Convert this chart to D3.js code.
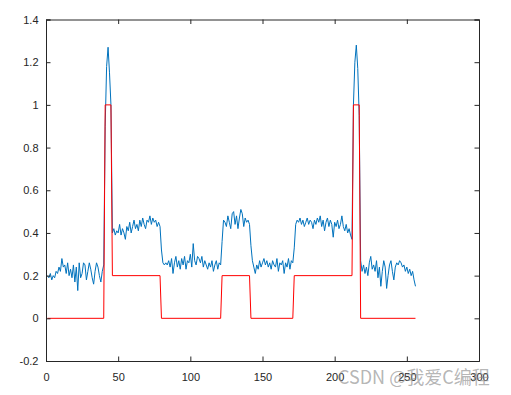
<!DOCTYPE html>
<html>
  <head>
    <meta charset="utf-8" />
    <title>signal</title>
    <style>
    body{
      margin: 0;
      background-color: white;
    }
    </style>
  </head>
  <body>
    <svg id="chart"></svg>
    <script src="https://d3js.org/d3.v7.min.js"></script>
    <script>

    // noisy measured signal, samples 1..256
    var blueY = [
      0.20, 0.19, 0.21, 0.18, 0.20, 0.19, 0.22, 0.21, 0.24, 0.22,
      0.28, 0.24, 0.25, 0.21, 0.26, 0.20, 0.23, 0.19, 0.25, 0.17,
      0.24, 0.13, 0.26, 0.19, 0.21, 0.26, 0.25, 0.18, 0.22, 0.26,
      0.23, 0.19, 0.16, 0.22, 0.26, 0.24, 0.20, 0.17, 0.22, 0.25,
      0.90, 1.18, 1.27, 1.15, 1.00,
      0.40, 0.42, 0.39, 0.41, 0.40, 0.44, 0.39, 0.42, 0.40, 0.37,
      0.43, 0.41, 0.45, 0.40, 0.43, 0.46, 0.42, 0.44, 0.41, 0.46,
      0.43, 0.47, 0.44, 0.42, 0.46, 0.45, 0.48, 0.44, 0.47, 0.45,
      0.46, 0.43, 0.45, 0.43,
      0.32, 0.26, 0.25, 0.26, 0.25, 0.27, 0.24, 0.28, 0.21, 0.26,
      0.29, 0.24, 0.27, 0.23, 0.28, 0.25, 0.29, 0.23, 0.27, 0.26,
      0.30, 0.24, 0.35, 0.27, 0.25, 0.29, 0.28, 0.26, 0.29, 0.24,
      0.27, 0.25, 0.23, 0.26, 0.24, 0.27, 0.22, 0.25, 0.27, 0.23,
      0.26, 0.25,
      0.36, 0.46, 0.45, 0.43, 0.48, 0.45, 0.42, 0.49, 0.50, 0.44,
      0.48, 0.42, 0.47, 0.51, 0.49, 0.43, 0.47, 0.45, 0.46, 0.44,
      0.34, 0.27, 0.24, 0.21, 0.25, 0.23, 0.27, 0.24, 0.26, 0.28,
      0.25, 0.27, 0.24, 0.26, 0.23, 0.27, 0.25, 0.24, 0.28, 0.22,
      0.26, 0.25, 0.27, 0.21, 0.26, 0.24, 0.28, 0.23, 0.27, 0.26,
      0.33, 0.44, 0.46, 0.45, 0.47, 0.44, 0.46, 0.43, 0.45, 0.47,
      0.44, 0.46, 0.45, 0.42, 0.46, 0.44, 0.47, 0.45, 0.48, 0.43,
      0.46, 0.41, 0.45, 0.47, 0.43, 0.46, 0.44, 0.38, 0.45, 0.43,
      0.46, 0.42, 0.44, 0.48, 0.43, 0.41, 0.44, 0.40, 0.42, 0.39,
      0.37,
      1.00, 1.20, 1.28, 1.17, 0.95,
      0.27, 0.22, 0.25, 0.21, 0.24, 0.20, 0.26, 0.29, 0.23, 0.25,
      0.22, 0.27, 0.19, 0.24, 0.15, 0.22, 0.27, 0.24, 0.14, 0.20,
      0.25, 0.27, 0.22, 0.18, 0.24, 0.26, 0.25, 0.27, 0.26, 0.24,
      0.25, 0.22, 0.24, 0.21, 0.23, 0.20, 0.22, 0.18, 0.15
    ];

    // step reference signal, corner points
    var redX = [1, 40, 41, 45, 46, 79, 80, 121, 122, 141, 142, 171, 172, 212, 213, 217, 218, 256];
    var redY = [0, 0, 1, 1, 0.2, 0.2, 0, 0, 0.2, 0.2, 0, 0, 0.2, 0.2, 1, 1, 0, 0];

    var xTicks = [0, 50, 100, 150, 200, 250, 300];
    var xTickLabels = ["0", "50", "100", "150", "200", "250", "300"];
    var yTicks = [-0.2, 0, 0.2, 0.4, 0.6, 0.8, 1, 1.2, 1.4];
    var yTickLabels = ["-0.2", "0", "0.2", "0.4", "0.6", "0.8", "1", "1.2", "1.4"];

    var width = 511;
    var height = 395;
    var pLeft = 46, pRight = 479, pTop = 19.5, pBottom = 361;
    var axisColor = "#262626";
    var tickLen = 4.5;

    var svg = d3.select("#chart")
                .attr("width", width)
                .attr("height", height)
                .style("display", "block");

    svg.append("rect")
       .attr("width", width)
       .attr("height", height)
       .attr("fill", "white");

    var x = d3.scaleLinear()
              .domain([0, 300])
              .range([pLeft, pRight]);

    var y = d3.scaleLinear()
              .domain([-0.2, 1.4])
              .range([pBottom, pTop]);

    var plot = svg.append("g");

    var line = d3.line()
                 .x(function(d){ return x(d[0]); })
                 .y(function(d){ return y(d[1]); });

    var bluePts = blueY.map(function(v, i){ return [i + 1, v]; });
    var redPts = redX.map(function(v, i){ return [v, redY[i]]; });

    plot.append("path")
        .datum(bluePts)
        .attr("d", line)
        .attr("fill", "none")
        .attr("stroke", "#0072BD")
        .attr("stroke-width", 1)
        .attr("stroke-linejoin", "round");

    plot.append("path")
        .datum(redPts)
        .attr("d", line)
        .attr("fill", "none")
        .attr("stroke", "#FF0000")
        .attr("stroke-width", 1);

    // axes, matlab style box with inward ticks
    var xAxisB = d3.axisBottom(x).tickValues(xTicks).tickSize(-tickLen).tickPadding(12)
                   .tickFormat(function(d, i){ return xTickLabels[i]; });
    var xAxisT = d3.axisTop(x).tickValues(xTicks).tickSize(-tickLen).tickFormat("");
    var yAxisL = d3.axisLeft(y).tickValues(yTicks).tickSize(-tickLen).tickPadding(7.5)
                   .tickFormat(function(d, i){ return yTickLabels[i]; });
    var yAxisR = d3.axisRight(y).tickValues(yTicks).tickSize(-tickLen).tickFormat("");

    var axes = [
      [xAxisB, "translate(0," + pBottom + ")"],
      [xAxisT, "translate(0," + pTop + ")"],
      [yAxisL, "translate(" + pLeft + ",0)"],
      [yAxisR, "translate(" + pRight + ",0)"]
    ];

    axes.forEach(function(a){
      var g = svg.append("g")
                 .attr("transform", a[1])
                 .call(a[0]);
      g.select(".domain").attr("stroke", axisColor).attr("stroke-width", 1);
      g.selectAll(".tick line").attr("stroke", axisColor);
      g.selectAll("text")
       .attr("fill", axisColor)
       .attr("font-family", "Liberation Sans, Arial, sans-serif")
       .attr("font-size", "11px");
    });

    svg.append("text")
       .attr("x", 338)
       .attr("y", 384)
       .text("CSDN @我爱C编程")
       .attr("font-family", "Noto Sans CJK SC, sans-serif")
       .attr("font-size", "18px")
       .attr("fill", "#8c8c8c")
       .attr("fill-opacity", 0.65);

    </script>
  </body>
</html>
